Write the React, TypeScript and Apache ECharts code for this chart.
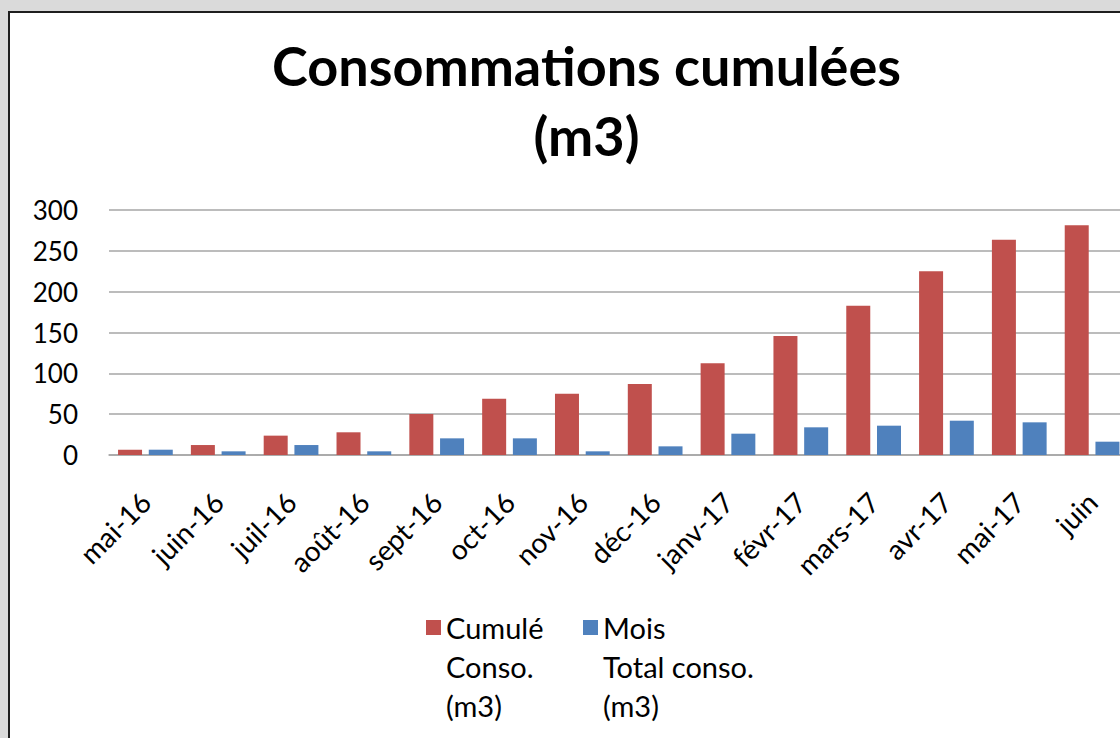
import React, { useEffect, useRef } from "react";
import * as echarts from "echarts";

const categories = [
  "mai-16", "juin-16", "juil-16", "août-16", "sept-16", "oct-16", "nov-16",
  "déc-16", "janv-17", "févr-17", "mars-17", "avr-17", "mai-17", "juin",
];
const cumulName = "Cumulé Conso. (m3)";
const moisName = "Mois Total conso. (m3)";
const cumulValues = [6.5, 12.2, 23.7, 27.8, 50.2, 69, 75, 86.9, 112.2, 145.7, 182.9, 224.9, 263.7, 281.2];
const moisValues = [6.5, 4.5, 12.2, 4.5, 20.4, 20.4, 4.5, 10.6, 26.1, 33.9, 35.9, 42, 40, 16.3];
const yTicks = [0, 50, 100, 150, 200, 250, 300];

// legend labels wrap over three lines; two leading empty lines keep the
// marker aligned with the first line of text
const legendLabels: Record<string, string> = {
  [cumulName]: "\n\nCumulé\nConso.\n(m3)",
  [moisName]: "\n\nMois\nTotal conso.\n(m3)",
};

const FONT = "Lato, 'Open Sans', sans-serif";

export default function App() {
  const ref = useRef<HTMLDivElement>(null);
  useEffect(() => {
    if (!ref.current) return;
    const chart = echarts.init(ref.current, undefined, { renderer: "svg" });
    const legendText = {
      fontFamily: FONT,
      fontSize: 29,
      color: "#000",
      lineHeight: 39,
    };
    const legendBase = {
      top: 530,
      padding: 0,
      itemWidth: 15,
      itemHeight: 15,
      itemGap: 0,
      icon: "rect",
      formatter: (n: string) => legendLabels[n] || n,
      textStyle: legendText,
    };
    chart.setOption({
      animation: false,
      title: {
        text: "Consommations cumulées\n(m3)",
        left: "center",
        top: 30,
        padding: 0,
        textStyle: {
          fontFamily: FONT,
          fontWeight: "bold",
          fontSize: 54,
          lineHeight: 70,
          color: "#000",
        },
      },
      legend: [
        { ...legendBase, data: [cumulName], left: 426 },
        { ...legendBase, data: [moisName], left: 583 },
      ],
      grid: { left: 109, right: 44.5, top: 210, bottom: 283 },
      xAxis: {
        type: "category",
        data: categories,
        axisTick: { show: false },
        axisLine: { lineStyle: { color: "#a6a6a6", width: 1.5 } },
        axisLabel: {
          interval: 0,
          rotate: 45,
          margin: 42,
          padding: [30, 0, 0, 0],
          fontFamily: FONT,
          fontSize: 28,
          color: "#000",
        },
      },
      yAxis: {
        type: "value",
        min: yTicks[0],
        max: yTicks[yTicks.length - 1],
        interval: 50,
        axisLine: { show: false },
        axisTick: { show: false },
        axisLabel: { margin: 31, fontFamily: FONT, fontSize: 26, color: "#000" },
        splitLine: { lineStyle: { color: "#a6a6a6", width: 1.5 } },
      },
      series: [
        {
          name: cumulName,
          type: "bar",
          data: cumulValues,
          barWidth: 24,
          barGap: "28%",
          itemStyle: { color: "#C0504D" },
        },
        {
          name: moisName,
          type: "bar",
          data: moisValues,
          barWidth: 24,
          barGap: "28%",
          itemStyle: { color: "#4F81BD" },
        },
      ],
    });
    return () => chart.dispose();
  }, []);

  return (
    <div
      style={{
        position: "fixed",
        left: 0,
        top: 0,
        width: 1120,
        height: 738,
        overflow: "hidden",
        background: "#dadada",
      }}
    >
      <div
        style={{
          position: "absolute",
          left: 8,
          top: 11,
          width: 1200,
          height: 800,
          background: "#fff",
          borderLeft: "2px solid #1e1e1e",
          borderTop: "2px solid #1e1e1e",
        }}
      />
      <div
        ref={ref}
        style={{ position: "absolute", left: 0, top: 0, width: 1173, height: 738 }}
      />
    </div>
  );
}
